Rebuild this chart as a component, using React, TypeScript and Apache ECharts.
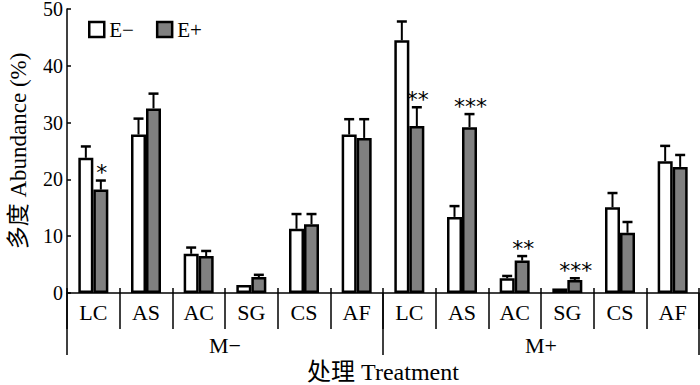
import React, { useEffect, useRef } from "react";
import * as echarts from "echarts";

const categories = ["LC", "AS", "AC", "SG", "CS", "AF", "LC", "AS", "AC", "SG", "CS", "AF"];
const groups = ["M−", "M+"];
const eMinus = [23.8, 27.9, 6.9, 1.4, 11.3, 27.9, 44.5, 13.4, 2.6, 0.8, 15.1, 23.2];
const eMinusTop = [25.8, 30.7, 8.0, 1.4, 13.9, 30.6, 47.8, 15.3, 3.0, 0.8, 17.6, 25.9];
const ePlus = [18.2, 32.5, 6.5, 2.8, 12.1, 27.3, 29.4, 29.2, 5.7, 2.3, 10.6, 22.2];
const ePlusTop = [19.8, 35.1, 7.4, 3.2, 13.9, 30.6, 32.7, 31.5, 6.5, 2.6, 12.5, 24.3];
const sigMarks = ["*", "", "", "", "", "", "**", "***", "**", "***", "", ""];
const yTicks = { min: 0, max: 50, interval: 10 };

const FONT = "'Liberation Serif', 'Times New Roman', 'Noto Sans CJK SC', serif";

export default function App() {
  const ref = useRef<HTMLDivElement>(null);
  useEffect(() => {
    if (!ref.current) return;
    const chart = echarts.init(ref.current, null, { renderer: "svg" });

    const errData = (means: number[], tops: number[], marks: string[] | null) =>
      means.map((m, i) => [i, m, tops[i], marks ? marks[i] : ""]);

    const makeErr = (name: string, data: any[], offset: number) => ({
      type: "custom",
      name,
      xAxisIndex: 0,
      yAxisIndex: 0,
      data,
      z: 5,
      renderItem: (params: any, api: any) => {
        const i = api.value(0);
        const mean = api.value(1);
        const top = api.value(2);
        const mark = data[params.dataIndex][3];
        const p0 = api.coord([i, mean]);
        const p1 = api.coord([i, top]);
        const x = p0[0] + offset;
        const children: any[] = [];
        if (top > mean) {
          children.push({
            type: "line",
            shape: { x1: x, y1: p0[1], x2: x, y2: p1[1] },
            style: { stroke: "#000", lineWidth: 2 },
          });
          children.push({
            type: "line",
            shape: { x1: x - 5, y1: p1[1], x2: x + 5, y2: p1[1] },
            style: { stroke: "#000", lineWidth: 2.5 },
          });
        }
        if (mark) {
          children.push({
            type: "text",
            style: {
              text: mark,
              x: x + 1,
              y: p1[1] - 8,
              align: "center",
              verticalAlign: "middle",
              fontSize: 22,
              fontFamily: "'DejaVu Sans', sans-serif",
              fill: "#000",
            },
          });
        }
        return { type: "group", children };
      },
    });

    chart.setOption({
      animation: false,
      textStyle: { fontFamily: FONT, color: "#000" },
      grid: { left: 67, right: 1, top: 9, bottom: 92, containLabel: false, outerBoundsMode: "none" },
      legend: {
        left: 83,
        top: 14,
        itemWidth: 15,
        itemHeight: 15,
        itemGap: 22,
        icon: "rect",
        data: ["E−", "E+"],
        textStyle: { fontFamily: FONT, fontSize: 21, color: "#000", padding: [0, 0, 0, 0] },
        itemStyle: { borderColor: "#000", borderWidth: 2.5 },
      },
      xAxis: [
        {
          type: "category",
          data: categories,
          position: "bottom",
          axisLine: { show: true, lineStyle: { color: "#000", width: 1.5 } },
          axisTick: { show: true, interval: 0, length: 36, lineStyle: { color: "#000", width: 1.5 } },
          axisLabel: { interval: 0, fontFamily: FONT, fontSize: 22, color: "#000", margin: 8 },
        },
        {
          type: "category",
          data: categories,
          position: "bottom",
          axisLine: { show: false },
          axisTick: { show: true, inside: true, interval: 0, length: 5, lineStyle: { color: "#000", width: 1.5 } },
          axisLabel: { show: false },
        },
        {
          type: "category",
          data: groups,
          position: "bottom",
          axisLine: { show: false },
          axisTick: { show: true, interval: 0, length: 62, lineStyle: { color: "#000", width: 1.5 } },
          axisLabel: { interval: 0, fontFamily: FONT, fontSize: 22, color: "#000", margin: 41 },
          name: "处理 Treatment",
          nameLocation: "middle",
          nameGap: 68,
          nameMoveOverlap: false,
          nameTextStyle: { fontFamily: FONT, fontSize: 24, color: "#000", lineHeight: 22 },
        },
      ],
      yAxis: {
        type: "value",
        min: yTicks.min,
        max: yTicks.max,
        interval: yTicks.interval,
        name: "多度 Abundance (%)",
        nameLocation: "middle",
        nameRotate: 90,
        nameGap: 38,
        nameMoveOverlap: false,
        nameTextStyle: { fontFamily: FONT, fontSize: 23, color: "#000", lineHeight: 22 },
        axisLine: { show: true, lineStyle: { color: "#000", width: 1.5 } },
        axisTick: { show: true, inside: true, length: 4, lineStyle: { color: "#000", width: 1.5 } },
        axisLabel: {
          fontFamily: FONT,
          fontSize: 20,
          color: "#000",
          margin: 4,
          lineHeight: 12,
          padding: [6, 0, 0, 0],
        },
        splitLine: { show: false },
      },
      series: [
        {
          name: "E−",
          type: "bar",
          xAxisIndex: 0,
          data: eMinus,
          barWidth: 15,
          barGap: "0%",
          itemStyle: { color: "#fff", borderColor: "#000", borderWidth: 2.5 },
        },
        {
          name: "E+",
          type: "bar",
          xAxisIndex: 0,
          data: ePlus,
          barWidth: 15,
          barGap: "0%",
          itemStyle: { color: "#808080", borderColor: "#000", borderWidth: 2.5 },
        },
        makeErr("errMinus", errData(eMinus, eMinusTop, null), -7.5),
        makeErr("errPlus", errData(ePlus, ePlusTop, sigMarks), 7.5),
      ],
    });
    return () => chart.dispose();
  }, []);
  return (
    <div
      ref={ref}
      style={{ position: "absolute", left: 0, top: 0, width: 700, height: 385 }}
    />
  );
}
